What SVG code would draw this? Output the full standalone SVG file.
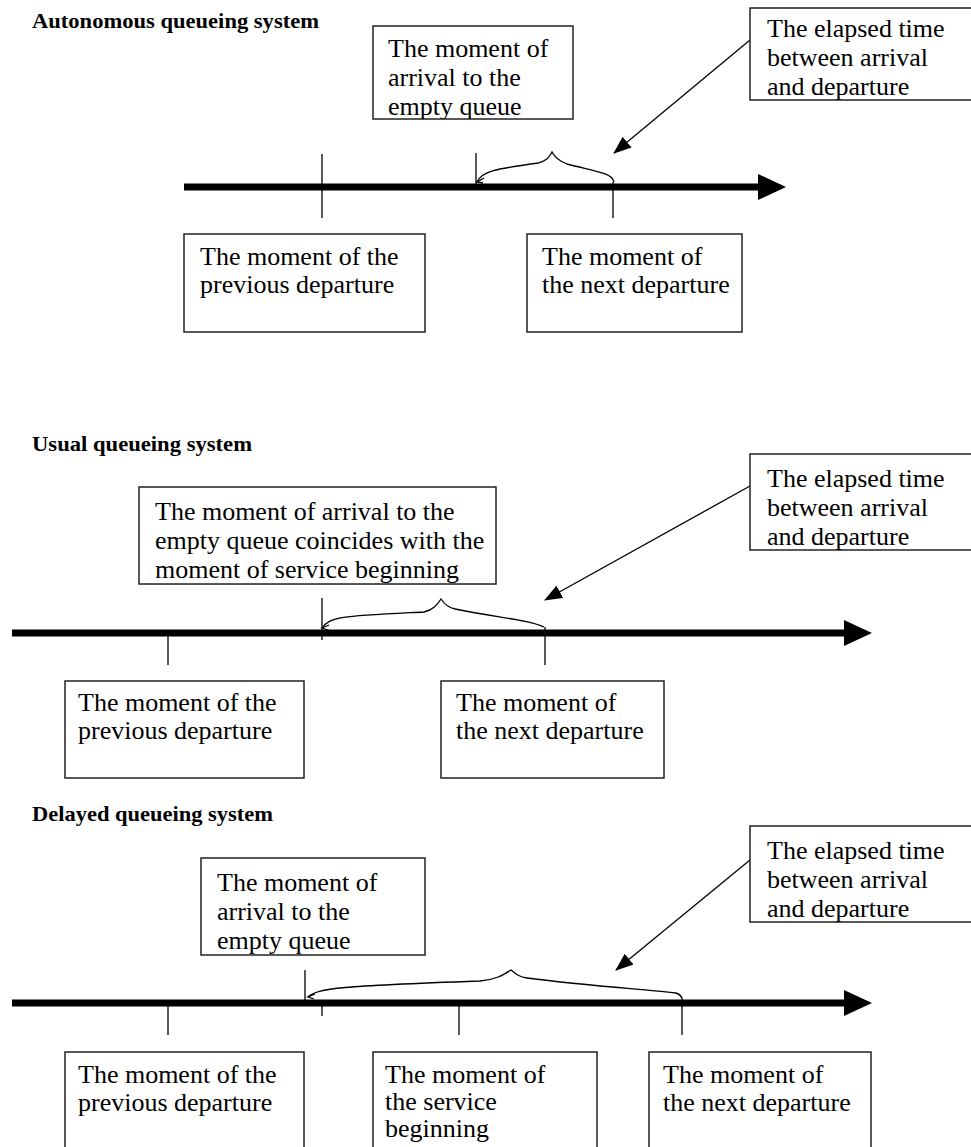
<svg xmlns="http://www.w3.org/2000/svg" width="971" height="1147" viewBox="0 0 971 1147">
<style>
.bg{fill:#fff}
.box{fill:#fff;stroke:#222;stroke-width:1.5}
.t{font-family:"Liberation Serif","Times New Roman",serif;font-size:26px;fill:#000}
.title{font-family:"Liberation Serif","Times New Roman",serif;font-size:21px;font-weight:bold;fill:#000}
.axis{stroke:#000;stroke-width:7}
.tick{stroke:#000;stroke-width:1.3}
.brace{fill:none;stroke:#000;stroke-width:1.3}
.call{stroke:#000;stroke-width:1.3;marker-end:url(#ah)}
</style>
<defs>
<marker id="ah" viewBox="0 0 18 14" refX="17" refY="7" markerWidth="18" markerHeight="14" markerUnits="userSpaceOnUse" orient="auto">
<path d="M0,0 L18,7 L0,14 Z" fill="#000"/>
</marker>
<clipPath id="cA"><rect x="373" y="26" width="200" height="93"/></clipPath>
<clipPath id="cB"><rect x="750" y="8" width="225" height="92"/></clipPath>
<clipPath id="cE"><rect x="139" y="487" width="357" height="97"/></clipPath>
<clipPath id="cF"><rect x="750" y="454" width="225" height="96"/></clipPath>
<clipPath id="cI"><rect x="201" y="858" width="224" height="97"/></clipPath>
<clipPath id="cJ"><rect x="750" y="826" width="225" height="96"/></clipPath>
</defs>
<rect class="bg" x="0" y="0" width="971" height="1147"/>

<text class="title" x="32" y="28" textLength="287" lengthAdjust="spacingAndGlyphs">Autonomous queueing system</text>
<text class="title" x="32" y="451" textLength="220" lengthAdjust="spacingAndGlyphs">Usual queueing system</text>
<text class="title" x="32" y="821" textLength="241" lengthAdjust="spacingAndGlyphs">Delayed queueing system</text>

<g id="connectors">
<line class="axis" x1="184" y1="187" x2="760" y2="187"/>
<polygon points="758,174 786,187 758,200" fill="#000"/>
<line class="tick" x1="322" y1="154" x2="322" y2="218"/>
<line class="tick" x1="476" y1="153" x2="476" y2="187"/>
<line class="tick" x1="613" y1="182" x2="613" y2="218"/>
<path class="brace" d="M477,182 C482,171 495,169 538,163 C546,161 549,158 552,152 C555,158 559,161 567,164 C598,172 612,173 614,182"/>
<path class="brace" d="M484,178 L477,182 L483,183"/>
<line class="call" x1="750" y1="40" x2="614" y2="153"/>

<line class="axis" x1="12" y1="633" x2="846" y2="633"/>
<polygon points="844,620 872,633 844,646" fill="#000"/>
<line class="tick" x1="168" y1="633" x2="168" y2="665"/>
<line class="tick" x1="322" y1="598" x2="322" y2="640"/>
<line class="tick" x1="545" y1="627" x2="545" y2="665"/>
<path class="brace" d="M322,628 C330,616 345,616 424,612 C433,610 437,605 441,599 C445,605 449,608 455,609 C500,618 530,620 544,627"/>
<path class="brace" d="M329,625 L322,628 L328,630"/>
<line class="call" x1="750" y1="486" x2="545" y2="600"/>

<line class="axis" x1="12" y1="1003" x2="846" y2="1003"/>
<polygon points="844,990 872,1003 844,1016" fill="#000"/>
<line class="tick" x1="168" y1="1003" x2="168" y2="1035"/>
<line class="tick" x1="305" y1="970" x2="305" y2="1003"/>
<line class="tick" x1="322" y1="1000" x2="322" y2="1016"/>
<line class="tick" x1="459" y1="1003" x2="459" y2="1035"/>
<line class="tick" x1="682" y1="998" x2="682" y2="1035"/>
<path class="brace" d="M308,997 C318,988 340,986 480,981 C495,980 503,975 511,970 C517,975 520,977 527,978 C590,986 640,989 676,993 C680,994 681,996 682,998"/>
<path class="brace" d="M315,994 L308,997 L314,999"/>
<line class="call" x1="750" y1="860" x2="616" y2="970"/>
</g>

<g id="n1-arrival">
<rect class="box" x="373" y="26" width="200" height="93"/>
<g clip-path="url(#cA)"><text class="t" x="388" y="57">The moment of</text><text class="t" x="388" y="86">arrival to the</text><text class="t" x="388" y="115">empty queue</text></g>
</g>
<g id="n1-elapsed">
<rect class="box" x="750" y="8" width="225" height="92"/>
<g clip-path="url(#cB)"><text class="t" x="767" y="37">The elapsed time</text><text class="t" x="767" y="66">between arrival</text><text class="t" x="767" y="95">and departure</text></g>
</g>
<g id="n1-prev">
<rect class="box" x="184" y="234" width="241" height="98"/>
<text class="t" x="200" y="265">The moment of the</text><text class="t" x="200" y="293">previous departure</text>
</g>
<g id="n1-next">
<rect class="box" x="527" y="234" width="215" height="98"/>
<text class="t" x="542" y="265">The moment of</text><text class="t" x="542" y="293">the next departure</text>
</g>

<g id="n2-arrival">
<rect class="box" x="139" y="487" width="357" height="97"/>
<g clip-path="url(#cE)"><text class="t" x="155" y="520">The moment of arrival to the</text><text class="t" x="155" y="549">empty queue coincides with the</text><text class="t" x="155" y="578">moment of service beginning</text></g>
</g>
<g id="n2-elapsed">
<rect class="box" x="750" y="454" width="225" height="96"/>
<g clip-path="url(#cF)"><text class="t" x="767" y="487">The elapsed time</text><text class="t" x="767" y="516">between arrival</text><text class="t" x="767" y="545">and departure</text></g>
</g>
<g id="n2-prev">
<rect class="box" x="65" y="681" width="239" height="97"/>
<text class="t" x="78" y="711">The moment of the</text><text class="t" x="78" y="739">previous departure</text>
</g>
<g id="n2-next">
<rect class="box" x="441" y="681" width="223" height="97"/>
<text class="t" x="456" y="711">The moment of</text><text class="t" x="456" y="739">the next departure</text>
</g>

<g id="n3-arrival">
<rect class="box" x="201" y="858" width="224" height="97"/>
<g clip-path="url(#cI)"><text class="t" x="217" y="891">The moment of</text><text class="t" x="217" y="920">arrival to the</text><text class="t" x="217" y="949">empty queue</text></g>
</g>
<g id="n3-elapsed">
<rect class="box" x="750" y="826" width="225" height="96"/>
<g clip-path="url(#cJ)"><text class="t" x="767" y="859">The elapsed time</text><text class="t" x="767" y="888">between arrival</text><text class="t" x="767" y="917">and departure</text></g>
</g>
<g id="n3-prev">
<rect class="box" x="65" y="1052" width="239" height="100"/>
<text class="t" x="78" y="1083">The moment of the</text><text class="t" x="78" y="1111">previous departure</text>
</g>
<g id="n3-service">
<rect class="box" x="373" y="1052" width="224" height="100"/>
<text class="t" x="385" y="1083">The moment of</text><text class="t" x="385" y="1110">the service</text><text class="t" x="385" y="1137">beginning</text>
</g>
<g id="n3-next">
<rect class="box" x="649" y="1052" width="222" height="100"/>
<text class="t" x="663" y="1083">The moment of</text><text class="t" x="663" y="1111">the next departure</text>
</g>
</svg>
